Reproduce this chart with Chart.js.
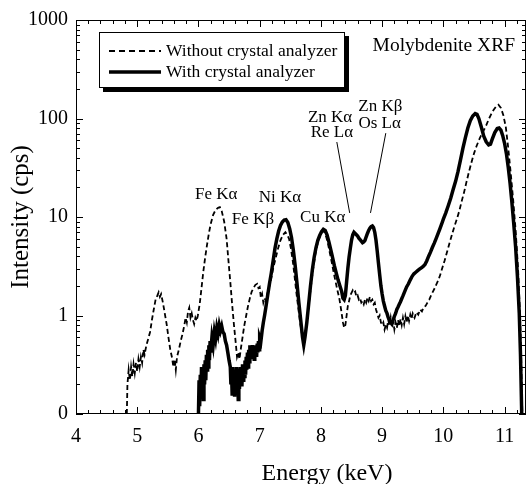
<!DOCTYPE html>
<html>
<head>
<meta charset="utf-8">
<script src="https://cdn.jsdelivr.net/npm/chart.js@4.4.1/dist/chart.umd.min.js"></script>
<style>
  html, body { margin: 0; padding: 0; background: #fff; }
  #wrap { width: 532px; height: 484px; }
</style>
</head>
<body>
<div id="wrap"><canvas id="xrf" width="532" height="484"></canvas></div>
<script>
// ---- data: [energy keV, intensity cps] ----
const withoutAnalyzer = [
  [4.83,0.1],[4.84,0.2],[4.86,0.28],[4.88,0.22],[4.90,0.3],[4.92,0.24],[4.94,0.32],[4.96,0.26],
  [4.98,0.33],[5.00,0.27],[5.02,0.36],[5.04,0.3],[5.06,0.38],[5.08,0.33],[5.10,0.45],[5.12,0.4],
  [5.15,0.5],[5.18,0.58],[5.21,0.68],[5.24,0.9],[5.27,1.15],[5.30,1.45],[5.33,1.6],[5.35,1.72],
  [5.37,1.55],[5.39,1.65],[5.42,1.35],[5.45,1.05],[5.48,0.82],[5.51,0.6],[5.54,0.45],[5.57,0.37],
  [5.59,0.3],[5.61,0.36],[5.63,0.28],[5.65,0.38],[5.68,0.45],[5.71,0.55],[5.74,0.65],[5.77,0.8],
  [5.79,0.95],[5.81,0.85],[5.83,1.1],[5.85,1.2],[5.87,0.95],[5.89,1.05],[5.91,0.9],[5.93,0.82],
  [5.95,0.95],[5.97,0.88],[5.99,1.0],[6.02,1.3],[6.05,1.9],[6.08,2.8],[6.11,3.9],[6.14,5.2],
  [6.17,6.8],[6.20,8.5],[6.24,10.5],[6.28,11.8],[6.32,12.4],[6.35,12.6],[6.38,11.5],[6.42,9.0],
  [6.46,6.0],[6.49,3.6],[6.52,2.2],[6.55,1.3],[6.58,0.8],[6.61,0.52],[6.63,0.38],[6.65,0.42],
  [6.67,0.36],[6.69,0.45],[6.72,0.6],[6.75,0.8],[6.78,1.0],[6.81,1.25],[6.84,1.5],[6.87,1.75],
  [6.90,1.9],[6.93,2.05],[6.96,2.1],[6.98,1.9],[7.00,1.95],[7.02,1.5],[7.04,1.65],[7.06,1.35],
  [7.08,1.5],[7.10,1.4],[7.13,1.7],[7.16,2.0],[7.19,2.4],[7.22,3.0],[7.26,3.8],[7.30,4.8],
  [7.34,5.8],[7.38,6.6],[7.42,7.0],[7.45,6.6],[7.48,6.0],[7.51,4.8],[7.54,3.6],[7.57,2.5],
  [7.60,1.7],[7.63,1.2],[7.66,0.85],[7.69,0.65],[7.71,0.55],[7.73,0.62],[7.76,0.8],[7.79,1.1],
  [7.82,1.6],[7.85,2.3],[7.88,3.2],[7.91,4.2],[7.94,5.2],[7.97,6.0],[8.00,6.6],[8.03,7.2],
  [8.06,7.0],[8.09,6.2],[8.12,5.2],[8.15,4.2],[8.18,3.4],[8.21,2.7],[8.24,2.2],[8.27,1.8],
  [8.30,1.5],[8.33,1.15],[8.36,0.85],[8.38,0.75],[8.40,0.8],[8.42,1.0],[8.44,1.25],[8.46,1.4],
  [8.48,1.6],[8.50,1.7],[8.52,1.8],[8.54,1.7],[8.56,1.75],[8.58,1.55],[8.60,1.6],[8.62,1.45],
  [8.64,1.5],[8.66,1.35],[8.68,1.4],[8.70,1.3],[8.72,1.45],[8.74,1.35],[8.76,1.5],[8.78,1.4],
  [8.80,1.55],[8.82,1.4],[8.84,1.45],[8.86,1.3],[8.88,1.35],[8.90,1.15],[8.92,1.05],[8.94,0.95],
  [8.96,1.0],[8.98,0.85],[9.00,0.8],[9.02,0.85],[9.04,0.72],[9.06,0.8],[9.08,0.75],[9.10,0.9],
  [9.12,0.8],[9.14,0.95],[9.16,0.78],[9.18,0.88],[9.20,0.72],[9.22,0.85],[9.24,0.75],[9.26,0.9],
  [9.28,0.78],[9.30,0.92],[9.32,0.8],[9.34,0.95],[9.36,0.82],[9.38,0.98],[9.40,0.85],[9.42,1.0],
  [9.44,0.88],[9.46,1.02],[9.48,0.92],[9.50,1.05],[9.53,0.95],[9.56,1.08],[9.59,1.02],[9.62,1.15],
  [9.65,1.1],[9.68,1.22],[9.71,1.25],[9.74,1.35],[9.77,1.45],[9.80,1.6],[9.83,1.75],[9.86,1.9],
  [9.89,2.1],[9.92,2.3],[9.95,2.6],[9.98,3.0],[10.02,3.6],[10.06,4.4],[10.10,5.4],[10.14,6.6],
  [10.18,8.0],[10.22,9.5],[10.26,11.5],[10.30,14.5],[10.34,18],[10.38,23],[10.42,29],[10.46,36],
  [10.50,44],[10.54,52],[10.58,60],[10.62,68],[10.66,76],[10.70,85],[10.74,98],[10.78,110],
  [10.82,122],[10.86,132],[10.90,138],[10.94,128],[10.98,108],[11.02,82],[11.06,50],[11.10,28],
  [11.14,15],[11.18,7.4],[11.22,3],[11.25,1.1],[11.27,0.4],[11.29,0.1]
];

const withAnalyzer = [
  [6.00,0.1],[6.01,0.22],[6.02,0.12],[6.03,0.25],[6.04,0.15],[6.05,0.3],[6.06,0.18],[6.07,0.28],
  [6.08,0.14],[6.09,0.32],[6.10,0.2],[6.11,0.35],[6.12,0.22],[6.13,0.4],[6.14,0.28],[6.15,0.45],
  [6.16,0.3],[6.17,0.5],[6.18,0.35],[6.19,0.55],[6.20,0.42],[6.22,0.6],[6.24,0.5],[6.26,0.68],
  [6.28,0.58],[6.30,0.75],[6.32,0.65],[6.34,0.8],[6.36,0.7],[6.38,0.78],[6.40,0.68],[6.42,0.65],
  [6.44,0.55],[6.46,0.5],[6.48,0.42],[6.50,0.35],[6.52,0.3],[6.53,0.2],[6.54,0.28],[6.55,0.16],
  [6.56,0.3],[6.57,0.18],[6.58,0.26],[6.59,0.15],[6.60,0.28],[6.61,0.17],[6.62,0.3],[6.63,0.2],
  [6.64,0.25],[6.65,0.14],[6.66,0.27],[6.67,0.18],[6.68,0.3],[6.69,0.2],[6.70,0.26],[6.71,0.19],
  [6.72,0.32],[6.73,0.22],[6.74,0.3],[6.75,0.24],[6.76,0.35],[6.77,0.25],[6.78,0.38],[6.79,0.28],
  [6.80,0.42],[6.81,0.3],[6.82,0.45],[6.83,0.34],[6.84,0.5],[6.85,0.38],[6.86,0.48],[6.87,0.36],
  [6.88,0.5],[6.89,0.38],[6.90,0.46],[6.91,0.36],[6.92,0.5],[6.93,0.4],[6.94,0.48],[6.95,0.38],
  [6.96,0.52],[6.97,0.42],[6.98,0.55],[6.99,0.45],[7.00,0.6],[7.02,0.55],[7.04,0.7],[7.06,0.85],
  [7.08,1.0],[7.10,1.2],[7.13,1.6],[7.16,2.1],[7.19,2.7],[7.22,3.6],[7.25,4.8],[7.28,6.0],
  [7.31,7.2],[7.34,8.2],[7.37,8.9],[7.40,9.3],[7.43,9.4],[7.46,8.8],[7.49,7.6],[7.52,6.2],
  [7.55,4.6],[7.58,3.2],[7.61,2.1],[7.64,1.35],[7.67,0.9],[7.70,0.6],[7.72,0.5],[7.74,0.6],
  [7.77,0.85],[7.80,1.3],[7.83,2.0],[7.86,2.9],[7.89,3.9],[7.92,4.9],[7.95,5.8],[7.98,6.5],
  [8.01,7.1],[8.04,7.5],[8.07,7.3],[8.10,6.6],[8.13,5.6],[8.16,4.7],[8.19,3.9],[8.22,3.2],
  [8.25,2.7],[8.28,2.3],[8.31,2.0],[8.34,1.75],[8.36,1.5],[8.38,1.45],[8.40,1.6],[8.42,2.2],
  [8.44,3.0],[8.46,3.9],[8.48,4.8],[8.50,5.8],[8.52,6.6],[8.54,7.0],[8.56,6.8],[8.58,6.6],
  [8.60,6.4],[8.62,6.1],[8.64,5.9],[8.66,5.7],[8.68,5.5],[8.70,5.6],[8.72,5.8],[8.74,6.3],
  [8.76,6.8],[8.78,7.3],[8.80,7.7],[8.82,8.0],[8.84,8.1],[8.86,7.8],[8.88,7.0],[8.90,5.8],
  [8.92,4.5],[8.94,3.4],[8.96,2.6],[8.98,2.0],[9.00,1.65],[9.02,1.4],[9.04,1.25],[9.06,1.12],
  [9.08,1.05],[9.10,0.95],[9.12,0.9],[9.14,0.85],[9.16,0.82],[9.18,0.9],[9.20,0.98],[9.22,1.05],
  [9.24,1.15],[9.26,1.22],[9.28,1.3],[9.30,1.38],[9.32,1.48],[9.34,1.58],[9.36,1.7],[9.38,1.82],
  [9.40,1.95],[9.43,2.1],[9.46,2.3],[9.49,2.5],[9.52,2.65],[9.55,2.75],[9.58,2.85],[9.61,2.95],
  [9.64,3.05],[9.67,3.15],[9.70,3.3],[9.73,3.6],[9.76,4.0],[9.79,4.4],[9.82,4.9],[9.85,5.4],
  [9.88,6.0],[9.91,6.7],[9.94,7.5],[9.97,8.4],[10.00,9.5],[10.04,11],[10.08,13],[10.12,15.5],
  [10.16,19],[10.20,23],[10.24,29],[10.28,38],[10.32,50],[10.36,64],[10.40,80],[10.44,95],
  [10.48,106],[10.52,112],[10.55,110],[10.58,100],[10.62,82],[10.66,66],[10.70,58],[10.74,54],
  [10.77,55],[10.80,62],[10.84,72],[10.88,79],[10.91,80],[10.94,76],[10.97,67],[11.00,56],
  [11.03,44],[11.06,32],[11.09,22],[11.12,14],[11.15,8.5],[11.18,5],[11.21,2.5],[11.24,1.05],
  [11.26,0.4],[11.28,0.1]
];

const seriesNames = ['Without crystal analyzer', 'With crystal analyzer'];
const xTicks = [4, 5, 6, 7, 8, 9, 10, 11];
const yTicks = [0.1, 1, 10, 100, 1000];
const yTickLabels = ['0', '1', '10', '100', '1000'];

// peak labels, anchored in data units (energy, intensity at text baseline)
const peakLabels = [
  { text: 'Fe K\u03B1', e: 6.29, i: 15.2 },
  { text: 'Fe K\u03B2', e: 6.89, i: 8.5 },
  { text: 'Ni K\u03B1', e: 7.33, i: 14.2 },
  { text: 'Cu K\u03B1', e: 8.03, i: 8.9 },
  { text: 'Zn K\u03B1', e: 8.15, i: 92 },
  { text: 'Re L\u03B1', e: 8.18, i: 65 },
  { text: 'Zn K\u03B2', e: 8.97, i: 118 },
  { text: 'Os L\u03B1', e: 8.96, i: 80 },
];
const pointerLines = [
  { from: [8.26, 57.7], to: [8.47, 11] },
  { from: [9.06, 71], to: [8.81, 11] },
];

const SERIF = '"Liberation Serif", "Times New Roman", serif';

// frame, inward ticks, legend box and labels
const decorations = {
  id: 'decorations',
  afterDatasetsDraw(chart) {
    const { ctx, chartArea: a, scales: { x, y } } = chart;
    ctx.save();
    ctx.strokeStyle = '#000';
    ctx.fillStyle = '#000';
    ctx.lineWidth = 1;
    ctx.setLineDash([]);
    ctx.strokeRect(a.left + 0.5, a.top + 0.5, a.right - a.left - 1, a.bottom - a.top - 1);

    const seg = (x1, y1, x2, y2) => { ctx.beginPath(); ctx.moveTo(x1, y1); ctx.lineTo(x2, y2); ctx.stroke(); };

    // x ticks every 0.2 keV, major on integers
    for (let k = 0; ; k++) {
      const v = xTicks[0] + k * 0.2;
      if (v > x.max + 1e-9) break;
      const px = Math.round(x.getPixelForValue(v)) + 0.5;
      const len = k % 5 === 0 ? 7 : 4;
      seg(px, a.bottom, px, a.bottom - len);
      seg(px, a.top, px, a.top + len);
    }
    // y ticks, decades + 2..9
    yTicks.forEach((d, j) => {
      const py = Math.round(y.getPixelForValue(d)) + 0.5;
      seg(a.left, py, a.left + 7, py);
      seg(a.right, py, a.right - 7, py);
      if (j < yTicks.length - 1) {
        for (let m = 2; m <= 9; m++) {
          const p = Math.round(y.getPixelForValue(d * m)) + 0.5;
          seg(a.left, p, a.left + 4, p);
          seg(a.right, p, a.right - 4, p);
        }
      }
    });

    // pointer lines
    ctx.lineWidth = 1;
    pointerLines.forEach((l) => {
      seg(x.getPixelForValue(l.from[0]), y.getPixelForValue(l.from[1]),
          x.getPixelForValue(l.to[0]), y.getPixelForValue(l.to[1]));
    });

    // peak labels
    ctx.font = '17px ' + SERIF;
    ctx.textAlign = 'center';
    ctx.textBaseline = 'alphabetic';
    peakLabels.forEach((p) => {
      ctx.fillText(p.text, x.getPixelForValue(p.e), y.getPixelForValue(p.i));
    });

    // sample name
    ctx.font = '19.5px ' + SERIF;
    ctx.textAlign = 'right';
    ctx.fillText('Molybdenite XRF', a.right - 11, a.top + 31);

    // x axis title (sits right of the plot centre in the original)
    ctx.font = '24px ' + SERIF;
    ctx.textAlign = 'center';
    ctx.fillText('Energy (keV)', 327, 480);

    // legend with drop shadow
    const bx = 99, by = 32, bw = 246, bh = 56;
    ctx.fillRect(bx + 4, by + 4, bw, bh);
    ctx.fillStyle = '#fff';
    ctx.fillRect(bx, by, bw, bh);
    ctx.strokeRect(bx + 0.5, by + 0.5, bw - 1, bh - 1);
    ctx.fillStyle = '#000';

    ctx.lineWidth = 2;
    ctx.setLineDash([6, 4]);
    seg(109, 51, 161, 51);
    ctx.setLineDash([]);
    ctx.lineWidth = 3.5;
    seg(109, 72, 161, 72);

    ctx.font = '17.5px ' + SERIF;
    ctx.textAlign = 'left';
    ctx.textBaseline = 'middle';
    ctx.fillText(seriesNames[0], 166, 51);
    ctx.fillText(seriesNames[1], 166, 72);
    ctx.restore();
  }
};

new Chart(document.getElementById('xrf'), {
  type: 'line',
  data: {
    datasets: [
      {
        label: seriesNames[1],
        data: withAnalyzer.map(([e, v]) => ({ x: e, y: v })),
        borderColor: '#000',
        borderWidth: 3.5,
        pointRadius: 0,
        tension: 0,
        fill: false,
      },
      {
        label: seriesNames[0],
        data: withoutAnalyzer.map(([e, v]) => ({ x: e, y: v })),
        borderColor: '#000',
        borderWidth: 1.8,
        borderDash: [5, 3],
        pointRadius: 0,
        tension: 0,
        fill: false,
      },
    ],
  },
  options: {
    responsive: false,
    animation: false,
    devicePixelRatio: 1,
    events: [],
    layout: { padding: { top: 20, right: 6, left: 0, bottom: 0 } },
    plugins: { legend: { display: false }, tooltip: { enabled: false } },
    scales: {
      x: {
        type: 'linear',
        min: 4,
        max: 11.35,
        afterFit: (s) => { s.height = 70; },
        afterBuildTicks: (s) => { s.ticks = xTicks.map((v) => ({ value: v })); },
        grid: { display: false, drawTicks: false, tickLength: 0 },
        border: { display: false },
        ticks: {
          color: '#000',
          font: { family: SERIF, size: 20 },
          padding: 11,
          maxRotation: 0,
          callback: (v) => String(v),
        },
        title: { display: false },
      },
      y: {
        type: 'logarithmic',
        min: 0.1,
        max: 1000,
        afterFit: (s) => { s.width = 76; },
        afterBuildTicks: (s) => { s.ticks = yTicks.map((v) => ({ value: v })); },
        grid: { display: false, drawTicks: false, tickLength: 0 },
        border: { display: false },
        ticks: {
          color: '#000',
          font: { family: SERIF, size: 20 },
          padding: 8,
          callback: (v) => {
            const j = yTicks.indexOf(v);
            return j >= 0 ? yTickLabels[j] : '';
          },
        },
        title: {
          display: true,
          text: 'Intensity (cps)',
          color: '#000',
          font: { family: SERIF, size: 25, lineHeight: 1.2 },
          padding: { top: 6, bottom: 0 },
        },
      },
    },
  },
  plugins: [decorations],
});
</script>
</body>
</html>
